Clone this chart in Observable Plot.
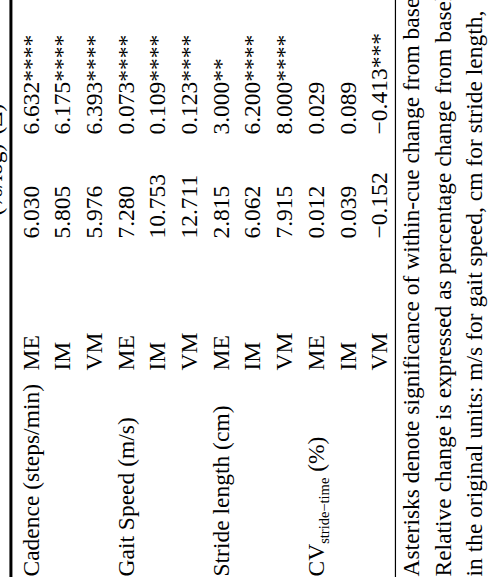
<!DOCTYPE html>
<html><head><meta charset="utf-8">
<script src="https://cdn.jsdelivr.net/npm/d3@7"></script>
<script src="https://cdn.jsdelivr.net/npm/@observablehq/plot@0.6"></script>
<style>html,body{margin:0;padding:0;background:#fff;overflow:hidden}</style>
</head><body><div id="chart"></div>
<script>
// ---- data ----
const variables = ["Cadence (steps/min)", "Gait Speed (m/s)", "Stride length (cm)", "CV stride−time (%)"];
const cues = ["ME", "IM", "VM"];
const relativeChange = [6.030, 5.805, 5.976, 7.280, 10.753, 12.711, 2.815, 6.062, 7.915, 0.012, 0.039, -0.152];
const absoluteChange = [6.632, 6.175, 6.393, 0.073, 0.109, 0.123, 3.000, 6.200, 8.000, 0.029, 0.089, -0.413];
const significance = ["****", "****", "****", "****", "****", "****", "**", "****", "****", "", "", "***"];
const headers = ["(%/log)", "(Δ)"];
const footnotes = [
  "Asterisks denote significance of within-cue change from baseline",
  "Relative change is expressed as percentage change from baseline",
  "in the original units: m/s for gait speed, cm for stride length,"
];

// ---- layout ----
const W = 492, H = 587;
const firstBaseline = 38, rowStep = 31.7;
const colStart = {variable: 576, cue: 370, rel: 238, abs: 134};
const headerStart = [215, 134];
const headerRow = -1.14, topRuleRow = -0.87, bottomRuleRow = 11.26, footRow = 12;
const ruleEnd = 577;
const font = "Liberation Serif, Times New Roman, serif";
const fs = 23.5;

const fmt = d3.format(".3f");
const rows = relativeChange.map((r, i) => ({
  row: i, cue: cues[i % 3], rel: r, abs: absoluteChange[i], sig: significance[i]
}));

const common = {rotate: -90, textAnchor: "start", lineAnchor: "bottom",
  fontFamily: font, fontSize: fs, fill: "black"};

const chart = Plot.plot({
  width: W, height: H, margin: 0,
  style: {background: "white", fontFamily: font},
  x: {type: "linear", domain: [0, 11], range: [firstBaseline, firstBaseline + 11 * rowStep], axis: null},
  y: {type: "identity"},
  marks: [
    Plot.ruleX([topRuleRow], {x: d => d, y1: 0, y2: ruleEnd, stroke: "black", strokeWidth: 3}),
    Plot.ruleX([bottomRuleRow], {x: d => d, y1: 0, y2: ruleEnd, stroke: "black", strokeWidth: 1.2}),
    Plot.text(headers, {...common, x: () => headerRow, y: (d, i) => headerStart[i], text: d => d}),
    Plot.text(variables, {...common, x: (d, i) => i * 3, y: () => colStart.variable, text: d => d}),
    Plot.text(rows, {...common, x: "row", y: () => colStart.cue, text: "cue"}),
    Plot.text(rows, {...common, x: "row", y: () => colStart.rel, text: d => fmt(d.rel)}),
    Plot.text(rows, {...common, x: "row", y: () => colStart.abs, text: d => fmt(d.abs) + d.sig}),
    Plot.text(footnotes, {...common, x: (d, i) => footRow + i, y: () => colStart.variable, text: d => d})
  ]
});

// subscript for CV label
const ns = "http://www.w3.org/2000/svg";
chart.querySelectorAll("text").forEach(t => {
  if (t.textContent === variables[3]) {
    t.textContent = "";
    t.append("CV");
    const sub = document.createElementNS(ns, "tspan");
    sub.setAttribute("font-size", "14.5");
    sub.setAttribute("dy", "5");
    sub.textContent = "stride−time";
    const rest = document.createElementNS(ns, "tspan");
    rest.setAttribute("dy", "-5");
    rest.textContent = " (%)";
    t.append(sub, rest);
  }
});
document.getElementById("chart").appendChild(chart);
</script>
</body></html>
